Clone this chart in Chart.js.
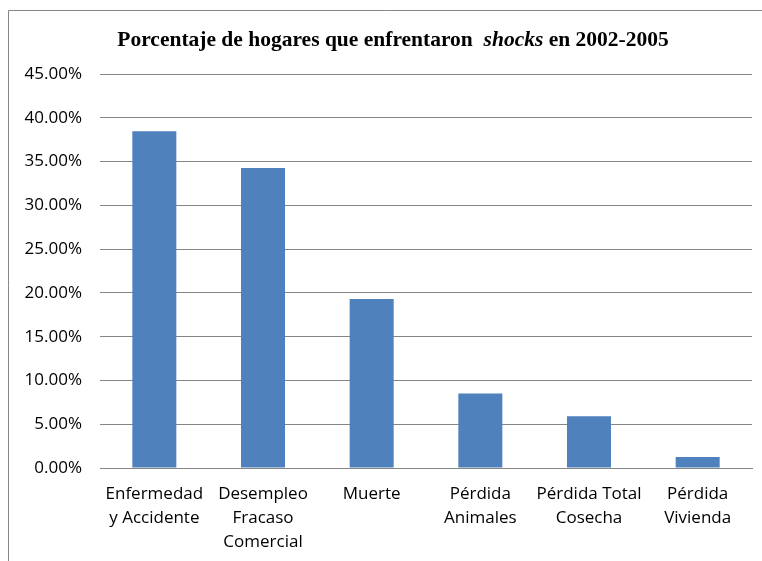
<!DOCTYPE html>
<html lang="es">
<head>
<meta charset="UTF-8">
<title>Porcentaje de hogares que enfrentaron shocks</title>
<script src="https://cdn.jsdelivr.net/npm/chart.js"></script>
<style>
  html, body { margin: 0; padding: 0; background: #fff; }
  #wrap { width: 762px; height: 561px; position: relative; }
</style>
</head>
<body>
<div id="wrap"><canvas id="shocksChart" width="762" height="561"></canvas></div>
<script>
// categorias (multi-linea como en el original)
const categories = [
  ['Enfermedad', 'y Accidente'],
  ['Desempleo', 'Fracaso', 'Comercial'],
  ['Muerte'],
  ['Pérdida', 'Animales'],
  ['Pérdida Total', 'Cosecha'],
  ['Pérdida', 'Vivienda']
];
// porcentaje de hogares
const shareValues = [38.45, 34.25, 19.3, 8.5, 5.9, 1.25];
const yTickMin = 0, yTickMax = 45, yTickStep = 5;
const titleParts = [
  { text: 'Porcentaje de hogares que enfrentaron  ', italic: false },
  { text: 'shocks', italic: true },
  { text: ' en 2002-2005', italic: false }
];

// titulo con "shocks" en cursiva + marco del grafico
const frameAndTitle = {
  id: 'frameAndTitle',
  afterDraw(chart) {
    const c = chart.ctx;
    c.save();
    c.strokeStyle = '#868686';
    c.lineWidth = 1;
    c.beginPath();
    c.moveTo(8.5, 561);
    c.lineTo(8.5, 10.5);
    c.lineTo(762, 10.5);
    c.stroke();

    const fonts = p => (p.italic ? 'italic bold ' : 'bold ') + '21.5px "Liberation Serif", "Times New Roman", serif';
    let total = 0;
    titleParts.forEach(p => { c.font = fonts(p); total += c.measureText(p.text).width; });
    let x = 393 - total / 2;
    c.fillStyle = '#000';
    c.textBaseline = 'alphabetic';
    titleParts.forEach(p => {
      c.font = fonts(p);
      c.fillText(p.text, x, 46);
      x += c.measureText(p.text).width;
    });
    c.restore();
  }
};

const ctx = document.getElementById('shocksChart').getContext('2d');
new Chart(ctx, {
  type: 'bar',
  data: {
    labels: categories,
    datasets: [{
      data: shareValues,
      backgroundColor: '#4F81BD',
      borderWidth: 0,
      barPercentage: 0.405,
      categoryPercentage: 1.0
    }]
  },
  options: {
    responsive: false,
    animation: false,
    layout: { padding: { top: 74, right: 10, left: 0, bottom: 0 } },
    plugins: {
      legend: { display: false },
      tooltip: { enabled: false }
    },
    scales: {
      x: {
        grid: { display: false, drawTicks: false },
        border: { display: true, color: '#868686', width: 1 },
        ticks: {
          color: '#000',
          font: { family: '"Open Sans", sans-serif', size: 17, lineHeight: 1.41 },
          padding: 14,
          maxRotation: 0,
          autoSkip: false
        },
        afterFit(scale) { scale.height = 93; }
      },
      y: {
        min: yTickMin,
        max: yTickMax,
        grid: { color: '#868686', lineWidth: 1, drawTicks: false },
        border: { display: false },
        ticks: {
          stepSize: yTickStep,
          color: '#000',
          font: { family: '"Open Sans", sans-serif', size: 17 },
          padding: 18,
          callback: v => v.toFixed(2) + '%'
        },
        afterFit(scale) { scale.width = 100; }
      }
    }
  },
  plugins: [frameAndTitle]
});
</script>
</body>
</html>
